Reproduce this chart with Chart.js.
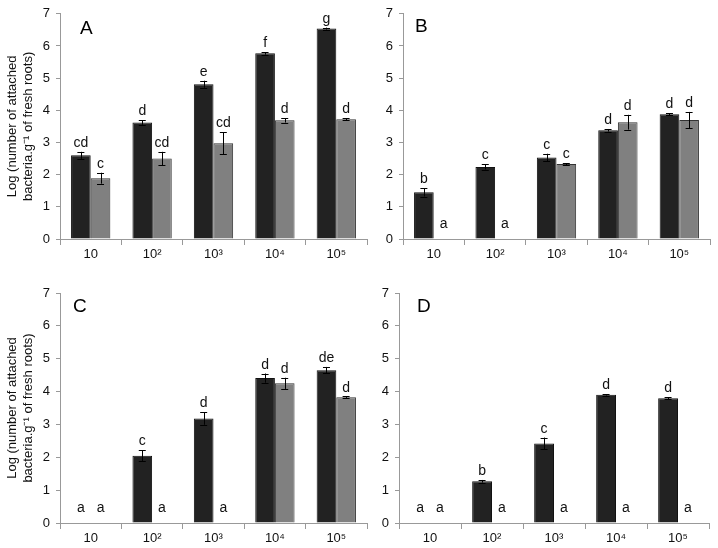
<!DOCTYPE html>
<html><head><meta charset="utf-8">
<script src="https://cdn.jsdelivr.net/npm/chart.js@4/dist/chart.umd.min.js"></script>
<style>
body{margin:0;width:718px;height:548px;background:#fff;position:relative;overflow:hidden}
canvas{position:absolute}
</style></head><body>
<canvas id="cA" width="370" height="272" style="left:0;top:0"></canvas>
<canvas id="cB" width="356" height="272" style="left:362px;top:0"></canvas>
<canvas id="cC" width="370" height="272" style="left:0;top:276px"></canvas>
<canvas id="cD" width="356" height="272" style="left:362px;top:276px"></canvas>
<script>
// ---- data ----
const categories = ['10', '10²', '10³', '10⁴', '10⁵'];
const yTickMax = 7;
const yTitle = ['Log (number of attached', 'bacteria.g⁻¹ of fresh roots)'];

const aDark = [2.60, 3.62, 4.81, 5.77, 6.54];
const aDarkErr = [0.11, 0.07, 0.11, 0.04, 0.03];
const aDarkLetters = ['cd', 'd', 'e', 'f', 'g'];
const aGray = [1.89, 2.50, 2.98, 3.69, 3.72];
const aGrayErr = [0.17, 0.21, 0.34, 0.07, 0.03];
const aGrayLetters = ['c', 'cd', 'cd', 'd', 'd'];

const bDark = [1.45, 2.24, 2.53, 3.38, 3.88];
const bDarkErr = [0.13, 0.08, 0.12, 0.04, 0.03];
const bDarkLetters = ['b', 'c', 'c', 'd', 'd'];
const bGray = [0, 0, 2.33, 3.63, 3.70];
const bGrayErr = [0, 0, 0.03, 0.23, 0.25];
const bGrayLetters = ['a', 'a', 'c', 'd', 'd'];

const cDark = [0, 2.05, 3.18, 4.41, 4.65];
const cDarkErr = [0, 0.16, 0.19, 0.14, 0.10];
const cDarkLetters = ['a', 'c', 'd', 'd', 'de'];
const cGray = [0, 0, 0, 4.25, 3.83];
const cGrayErr = [0, 0, 0, 0.17, 0.02];
const cGrayLetters = ['a', 'a', 'a', 'd', 'd'];

const dDark = [0, 1.27, 2.42, 3.90, 3.80];
const dDarkErr = [0, 0.04, 0.18, 0.02, 0.03];
const dDarkLetters = ['a', 'b', 'c', 'd', 'd'];
const dGray = [0, 0, 0, 0, 0];
const dGrayErr = [0, 0, 0, 0, 0];
const dGrayLetters = ['a', 'a', 'a', 'a', 'a'];

// ---- plugin: error bars, letters, panel label ----
const annotate = {
  id: 'annotate',
  afterDatasetsDraw(chart, args, opts) {
    const ctx = chart.ctx, ys = chart.scales.y;
    ctx.save();
    chart.data.datasets.forEach((ds, i) => {
      const meta = chart.getDatasetMeta(i);
      meta.data.forEach((bar, j) => {
        const v = ds.data[j], e = ds.errors[j], x = bar.x;
        let top = ys.getPixelForValue(v);
        if (e > 0) {
          const yt = ys.getPixelForValue(v + e), yb = ys.getPixelForValue(v - e);
          ctx.strokeStyle = '#000'; ctx.lineWidth = 1;
          ctx.beginPath();
          ctx.moveTo(Math.round(x) + 0.5, yt); ctx.lineTo(Math.round(x) + 0.5, yb);
          ctx.moveTo(x - 3.5, Math.round(yt) + 0.5); ctx.lineTo(x + 3.5, Math.round(yt) + 0.5);
          ctx.moveTo(x - 3.5, Math.round(yb) + 0.5); ctx.lineTo(x + 3.5, Math.round(yb) + 0.5);
          ctx.stroke();
          top = yt;
        }
        ctx.fillStyle = '#111';
        ctx.font = '14px "Liberation Sans", Arial, sans-serif';
        ctx.textAlign = 'center'; ctx.textBaseline = 'alphabetic';
        const base = v === 0 ? ys.getPixelForValue(0) - 11 : top - 5;
        ctx.fillText(ds.letters[j], x, base);
      });
    });
    ctx.font = '19px "Liberation Sans", Arial, sans-serif';
    ctx.fillStyle = '#000';
    ctx.textAlign = 'left'; ctx.textBaseline = 'top';
    ctx.fillText(opts.label, chart.chartArea.left + opts.dx, chart.chartArea.top + opts.dy);
    ctx.restore();
  }
};

function makeChart(id, dark, darkErr, darkLetters, gray, grayErr, grayLetters, label, geo) {
  const cv = document.getElementById(id);
  const showTitle = geo.title;
  return new Chart(cv, {
    type: 'bar',
    data: {
      labels: categories,
      datasets: [
        { data: dark, errors: darkErr, letters: darkLetters, backgroundColor: '#222222',
          borderColor: '#111111', borderWidth: 1, barPercentage: 1, categoryPercentage: 0.64 },
        { data: gray, errors: grayErr, letters: grayLetters, backgroundColor: '#808080',
          borderColor: '#333333', borderWidth: 1, barPercentage: 1, categoryPercentage: 0.64 }
      ]
    },
    options: {
      responsive: false, animation: false, events: [],
      layout: { padding: { left: 0, top: geo.top, right: cv.width - geo.right, bottom: 0 } },
      plugins: { legend: { display: false }, tooltip: { enabled: false },
        annotate: { label: label, dx: geo.dx, dy: geo.dy } },
      scales: {
        x: {
          grid: { display: true, offset: true, drawOnChartArea: false, tickLength: 6, color: '#999' },
          border: { display: true, color: '#999' },
          ticks: { color: '#111', font: { family: '"Liberation Sans", Arial, sans-serif', size: 13 }, padding: 2, maxRotation: 0 },
          afterFit: s => { s.height = cv.height - geo.bottom; }
        },
        y: {
          min: 0, max: yTickMax,
          grid: { display: true, drawOnChartArea: false, tickLength: 4, color: '#999' },
          border: { display: true, color: '#999' },
          ticks: { stepSize: 1, color: '#111', font: { family: '"Liberation Sans", Arial, sans-serif', size: 13 }, padding: 6 },
          title: { display: showTitle, text: yTitle, color: '#111',
            font: { family: '"Liberation Sans", Arial, sans-serif', size: 13, lineHeight: 1.25 }, padding: { top: 4, bottom: 0 } },
          afterFit: s => { s.width = geo.left; }
        }
      }
    },
    plugins: [annotate]
  });
}

makeChart('cA', aDark, aDarkErr, aDarkLetters, aGray, aGrayErr, aGrayLetters, 'A',
  { left: 60, right: 367, top: 9, bottom: 239, title: true, dx: 20, dy: 5 });
makeChart('cB', bDark, bDarkErr, bDarkLetters, bGray, bGrayErr, bGrayLetters, 'B',
  { left: 41, right: 348, top: 9, bottom: 239, title: false, dx: 12, dy: 3 });
makeChart('cC', cDark, cDarkErr, cDarkLetters, cGray, cGrayErr, cGrayLetters, 'C',
  { left: 60, right: 367, top: 17, bottom: 247, title: true, dx: 13, dy: 4 });
makeChart('cD', dDark, dDarkErr, dDarkLetters, dGray, dGrayErr, dGrayLetters, 'D',
  { left: 37, right: 347, top: 17, bottom: 247, title: false, dx: 18, dy: 4 });
</script>
</body></html>
